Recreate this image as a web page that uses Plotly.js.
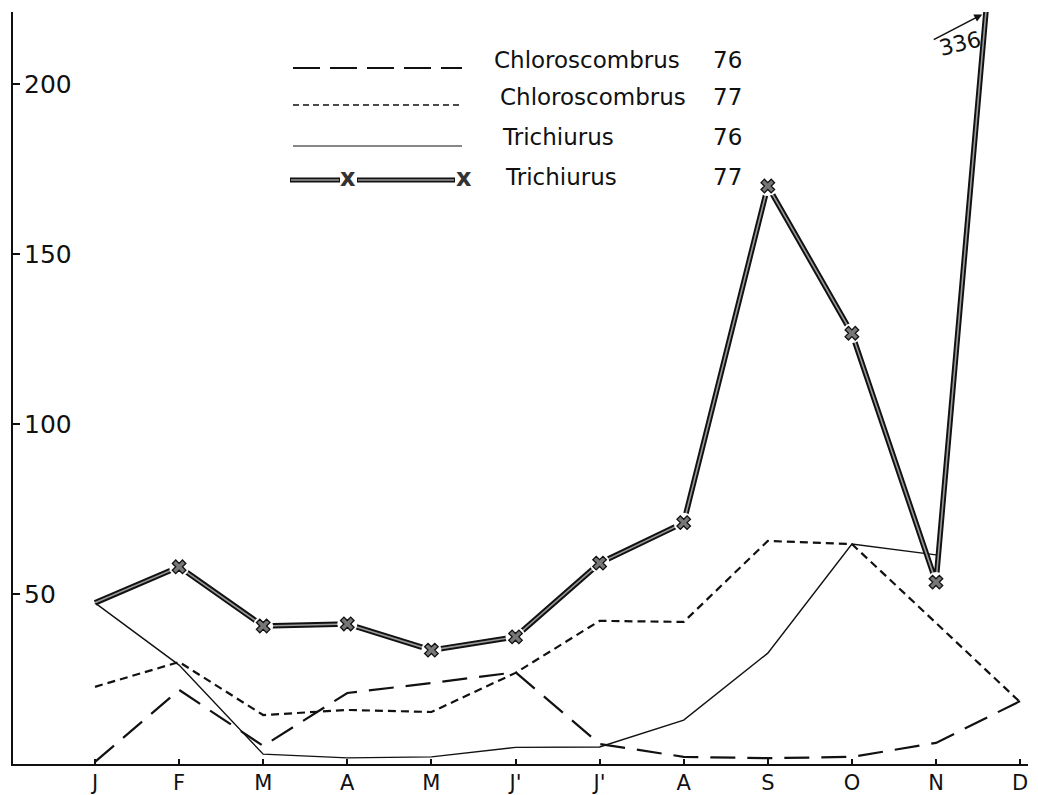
<!DOCTYPE html>
<html>
<head>
<meta charset="utf-8">
<script src="https://cdn.plot.ly/plotly-3.0.1.min.js"></script>
<style>html,body{margin:0;padding:0;background:#fff;}#chart{width:1038px;height:795px;}</style>
</head>
<body>
<div id="chart"></div>
<script>
// ---- data ----
const months = ['J', 'F', 'M', 'A', 'M', "J'", "J'", 'A', 'S', 'O', 'N', 'D'];
const chloroscombrus76 = [0.6, 21.8, 5.3, 20.9, 23.8, 27.0, 5.9, 2.1, 1.7, 2.1, 6.2, 18.5];
const chloroscombrus77 = [22.7, 30.0, 14.4, 15.9, 15.3, 26.8, 42.1, 41.8, 65.6, 64.7, 41.5, 18.2];
const trichiurus76 = [47.4, 29.1, 2.9, 1.8, 2.1, 4.9, 5.0, 12.9, 32.6, 64.7, 61.5, null];
const trichiurus77 = [47.4, 58.0, 40.6, 41.2, 33.5, 37.4, 59.1, 71.0, 170.0, 126.7, 53.5, 336];
const yTicks = [50, 100, 150, 200];
const legendNames = ['Chloroscombrus', 'Chloroscombrus', 'Trichiurus', 'Trichiurus'];
const legendYears = ['76', '77', '76', '77'];
const offChartLabel = '336';

const xs = months.map((m, i) => i);
const markIdx = xs.filter(i => i > 0 && i < months.length - 1 && trichiurus77[i] < 221);

// ---- geometry helpers (paper coords) ----
const W = 1038, H = 795, ML = 13, MR = 10, MT = 12, MB = 31;
const PX = px => (px - ML) / (W - ML - MR);
const PY = py => (H - MB - py) / (H - MT - MB);

const traces = [
  {x: xs, y: trichiurus76, mode: 'lines', line: {color: '#111', width: 1.4}, hoverinfo: 'skip'},
  {x: xs, y: chloroscombrus77, mode: 'lines', line: {color: '#111', width: 2.2, dash: '8px,5px'}, hoverinfo: 'skip'},
  {x: xs, y: chloroscombrus76, mode: 'lines', line: {color: '#111', width: 2.2, dash: '25px,12px'}, hoverinfo: 'skip'},
  {x: xs, y: trichiurus77, mode: 'lines', line: {color: '#111', width: 5.5}, hoverinfo: 'skip'},
  {x: xs, y: trichiurus77, mode: 'lines', line: {color: '#9a9a9a', width: 1.6}, hoverinfo: 'skip'},
  {x: markIdx, y: markIdx.map(i => trichiurus77[i]), mode: 'markers',
   marker: {symbol: 'circle', size: 20, color: '#fff', line: {width: 0}}, hoverinfo: 'skip'},
  {x: markIdx, y: markIdx.map(i => trichiurus77[i]), mode: 'markers',
   marker: {symbol: 'x', size: 12, color: '#777', line: {width: 1.3, color: '#111'}}, hoverinfo: 'skip'}
];

// ---- custom legend ----
const rowsText = [60, 97, 137, 177];
const rowsLine = [68, 105, 146, 180];
const textX = [492, 498, 500, 503];
const shapes = [];
const annotations = [];
const lx0 = 293, lx1 = 462;
shapes.push({type: 'line', xref: 'paper', yref: 'paper', x0: PX(lx0), x1: PX(lx1), y0: PY(rowsLine[0]), y1: PY(rowsLine[0]), line: {color: '#111', width: 1.8, dash: '27px,10px'}});
shapes.push({type: 'line', xref: 'paper', yref: 'paper', x0: PX(lx0), x1: PX(lx1), y0: PY(rowsLine[1]), y1: PY(rowsLine[1]), line: {color: '#111', width: 1.6, dash: '6px,4px'}});
shapes.push({type: 'line', xref: 'paper', yref: 'paper', x0: PX(lx0), x1: PX(lx1), y0: PY(rowsLine[2]), y1: PY(rowsLine[2]), line: {color: '#111', width: 1.2}});
[[290, 340], [357, 455]].forEach(seg => {
  shapes.push({type: 'line', xref: 'paper', yref: 'paper', x0: PX(seg[0]), x1: PX(seg[1]), y0: PY(rowsLine[3]), y1: PY(rowsLine[3]), line: {color: '#111', width: 5}});
  shapes.push({type: 'line', xref: 'paper', yref: 'paper', x0: PX(seg[0] + 1), x1: PX(seg[1] - 1), y0: PY(rowsLine[3]), y1: PY(rowsLine[3]), line: {color: '#9a9a9a', width: 1.4}});
});
[348, 464].forEach(cx => {
  annotations.push({xref: 'paper', yref: 'paper', x: PX(cx), y: PY(rowsLine[3] - 2), text: '<b>x</b>', showarrow: false,
    font: {family: 'DejaVu Sans', size: 24, color: '#333'}, xanchor: 'center', yanchor: 'middle'});
});
legendNames.forEach((nm, k) => {
  annotations.push({xref: 'paper', yref: 'paper', x: PX(textX[k]), y: PY(rowsText[k]), text: nm, showarrow: false,
    font: {family: 'DejaVu Sans', size: 23, color: '#111'}, xanchor: 'left', yanchor: 'middle'});
  annotations.push({xref: 'paper', yref: 'paper', x: PX(727), y: PY(rowsText[k]), text: legendYears[k], showarrow: false,
    font: {family: 'DejaVu Sans', size: 23, color: '#111'}, xanchor: 'center', yanchor: 'middle'});
});

// off-chart value note
annotations.push({xref: 'x', yref: 'y', x: 10.29, y: 212, text: offChartLabel, textangle: -14, showarrow: false,
  font: {family: 'DejaVu Sans', size: 22, color: '#111'}});
annotations.push({xref: 'x', yref: 'y', x: 10.55, y: 220.5, text: '', showarrow: true, ax: -50, ay: 26,
  arrowhead: 2, arrowsize: 1, arrowwidth: 1.6, arrowcolor: '#111'});

const layout = {
  width: W, height: H,
  margin: {l: ML, r: MR, t: MT, b: MB, pad: 0},
  paper_bgcolor: '#fff', plot_bgcolor: '#fff',
  showlegend: false,
  xaxis: {
    range: [-0.975, 11.094], tickmode: 'array', tickvals: xs, ticktext: months,
    showgrid: false, zeroline: false, showline: true, linecolor: '#111', linewidth: 2,
    ticks: 'inside', ticklen: 5, tickwidth: 2, tickcolor: '#111',
    ticklabelstandoff: -1,
    tickfont: {family: 'DejaVu Sans', size: 21, color: '#111'}
  },
  yaxis: {
    range: [0, 221.2], tickmode: 'array', tickvals: yTicks,
    showgrid: false, zeroline: false, showline: true, linecolor: '#111', linewidth: 2.5,
    ticks: 'inside', ticklen: 7, tickwidth: 2, tickcolor: '#111',
    ticklabelposition: 'inside', ticklabelstandoff: 6,
    tickfont: {family: 'DejaVu Sans', size: 25, color: '#111'}
  },
  shapes: shapes,
  annotations: annotations
};

Plotly.newPlot('chart', traces, layout, {staticPlot: true, displayModeBar: false});
</script>
</body>
</html>
